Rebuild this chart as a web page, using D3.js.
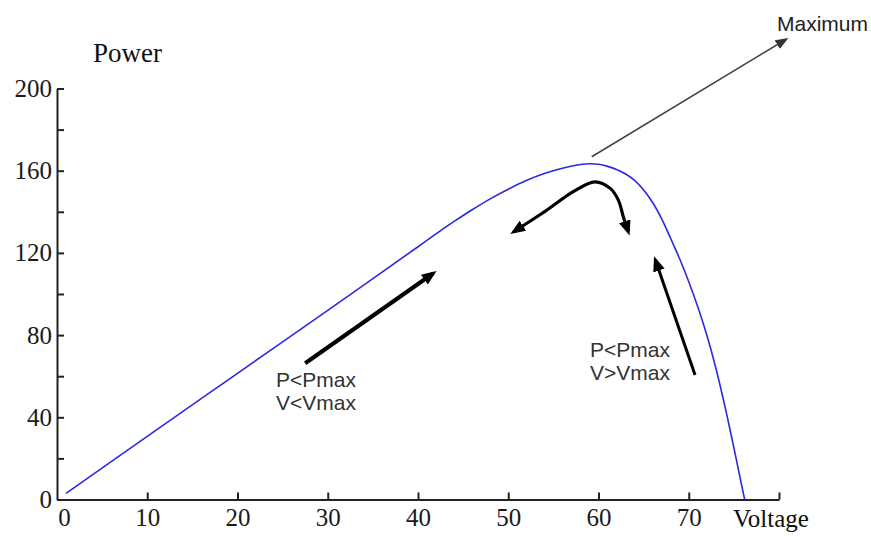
<!DOCTYPE html>
<html>
<head>
<meta charset="utf-8">
<script src="https://cdn.jsdelivr.net/npm/d3@7"></script>
<style>
  body { margin: 0; background: #fff; }
</style>
</head>
<body>
<svg id="chart" width="871" height="537"></svg>
<script>
//// DATA

// P-V curve of the panel
const voltage = [1, 10, 20, 30, 40, 42, 44, 46, 48, 50, 52, 54, 56, 58, 59, 60, 61, 62, 63, 64, 65, 66, 67, 68, 69, 70, 71, 72, 73, 74, 75, 76, 76.2]
const power   = [3, 30.7, 61.4, 92, 123, 129.3, 135.3, 141, 146.3, 151, 155.2, 158.6, 161.2, 163, 163.4, 163.1, 162.1, 160.6, 158.4, 155.3, 150.6, 144.5, 136.6, 127, 117, 106, 93.8, 80, 64, 45.5, 25.2, 4, 0]

const xTicks = [0, 10, 20, 30, 40, 50, 60, 70, 80]
const yMajor = [0, 40, 80, 120, 160, 200]
const yMinor = [20, 60, 100, 140, 180]

// annotation arrows, in (voltage, power) units
const upArrow    = [[27.5, 66.3], [41.7, 110.1]]
const downArrow  = [[70.7, 60.6], [66.3, 116.5]]
const maxArrow   = [[59.25, 166.8], [80.66, 223.6]]
const hillArrow  = [[50.6, 130.3], [54.3, 140.9], [57.2, 149.8], [59.6, 154.6],
                    [61.3, 151.4], [62.2, 145.7], [62.75, 137.6], [63.3, 130.3]]

const leftLabel  = ["P<Pmax", "V<Vmax"]
const rightLabel = ["P<Pmax", "V>Vmax"]

//// LAYOUT

const svg = d3.select("#chart")
const x = d3.scaleLinear().domain([0, 80]).range([57, 779])
const y = d3.scaleLinear().domain([0, 200]).range([499.5, 88.5])

const serif = "'Liberation Serif', 'Times New Roman', serif"
const sans = "'Liberation Sans', Arial, sans-serif"

// arrowheads
const defs = svg.append("defs")
function mkMarker(id, len, half, color) {
  defs.append("marker")
    .attr("id", id)
    .attr("markerUnits", "userSpaceOnUse")
    .attr("viewBox", `0 ${-half} ${len} ${half*2}`)
    .attr("markerWidth", len)
    .attr("markerHeight", half*2)
    .attr("refX", len - 4)
    .attr("refY", 0)
    .attr("orient", "auto-start-reverse")
    .append("path")
    .attr("d", `M0,${-half}L${len},0L0,${half}Z`)
    .attr("fill", color)
}
mkMarker("head", 15, 6, "#000")
mkMarker("thin-head", 13, 5, "#333")

//// AXES

const xAxis = svg.append("g")
  .attr("transform", `translate(0,${y(0)})`)
  .call(d3.axisBottom(x)
    .tickValues(xTicks)
    .tickSizeInner(-7)
    .tickSizeOuter(0)
    .tickPadding(9)
    .tickFormat(d => d == 80 ? "" : d))

// the 0 label sits a little right of the y axis
xAxis.selectAll(".tick").filter(d => d == 0).select("line").remove()
xAxis.selectAll(".tick").filter(d => d == 0).select("text").attr("dx", 7)

const yAxis = svg.append("g")
  .attr("transform", `translate(${x(0)},0)`)
  .call(d3.axisLeft(y)
    .tickValues(yMajor)
    .tickSizeInner(-7)
    .tickSizeOuter(0)
    .tickPadding(5))

svg.append("g")
  .attr("transform", `translate(${x(0)},0)`)
  .call(d3.axisLeft(y).tickValues(yMinor).tickSize(-7).tickFormat(""))
  .call(g => g.select(".domain").remove())

svg.selectAll(".domain, .tick line")
  .attr("stroke", "#222")
  .attr("stroke-width", 2)

svg.selectAll(".tick text")
  .attr("font-family", serif)
  .attr("font-size", 25)
  .attr("fill", "#1a1a1a")

svg.append("text")
  .attr("x", 93).attr("y", 62)
  .attr("font-family", serif).attr("font-size", 27)
  .attr("fill", "#111")
  .text("Power")

svg.append("text")
  .attr("x", 733).attr("y", 527)
  .attr("font-family", serif).attr("font-size", 25)
  .attr("fill", "#111")
  .text("Voltage")

//// CURVE

const pts = voltage.map((v, i) => [v, power[i]])

svg.append("path")
  .datum(pts)
  .attr("d", d3.line().x(d => x(d[0])).y(d => y(d[1])).curve(d3.curveCatmullRom))
  .attr("fill", "none")
  .attr("stroke", "#2a2ae0")
  .attr("stroke-width", 1.6)

//// ANNOTATIONS

const straight = d3.line().x(d => x(d[0])).y(d => y(d[1]))

svg.append("path")
  .datum(maxArrow)
  .attr("d", straight)
  .attr("stroke", "#444").attr("stroke-width", 1.6)
  .attr("marker-end", "url(#thin-head)")

svg.append("path")
  .datum(upArrow)
  .attr("d", straight)
  .attr("stroke", "#000").attr("stroke-width", 4)
  .attr("marker-end", "url(#head)")

svg.append("path")
  .datum(downArrow)
  .attr("d", straight)
  .attr("stroke", "#000").attr("stroke-width", 3)
  .attr("marker-end", "url(#head)")

svg.append("path")
  .datum(hillArrow)
  .attr("d", d3.line().x(d => x(d[0])).y(d => y(d[1])).curve(d3.curveCatmullRom))
  .attr("fill", "none")
  .attr("stroke", "#000").attr("stroke-width", 3.2)
  .attr("marker-start", "url(#head)")
  .attr("marker-end", "url(#head)")

svg.append("text")
  .attr("x", 777).attr("y", 31)
  .attr("font-family", sans).attr("font-size", 21)
  .attr("fill", "#222")
  .text("Maximum")

function twoLines(lines, px, py) {
  svg.append("text")
    .attr("font-family", sans).attr("font-size", 21)
    .attr("fill", "#333")
    .selectAll("tspan")
    .data(lines)
    .join("tspan")
    .attr("x", px)
    .attr("y", (d, i) => py + i*23)
    .text(d => d)
}
twoLines(leftLabel, 276, 387)
twoLines(rightLabel, 590, 357)
</script>
</body>
</html>
